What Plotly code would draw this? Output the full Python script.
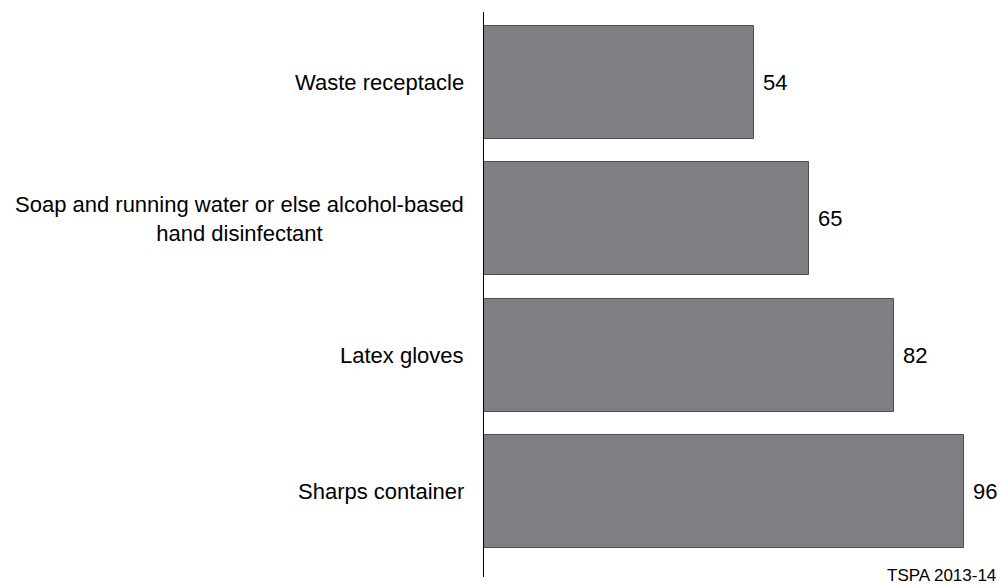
import plotly.graph_objects as go

# Data (bottom to top)
categories = ["Sharps container", "Latex gloves",
              "Soap and running water or else alcohol-based<br>hand disinfectant",
              "Waste receptacle"]
values = [96, 82, 65, 54]

FONT = "Liberation Sans, Arial"

fig = go.Figure()

fig.add_trace(go.Bar(
    x=values,
    y=list(range(len(categories))),
    orientation="h",
    width=0.83,
    marker=dict(color="#808084", line=dict(color="#4d4d4f", width=1)),
    hoverinfo="skip",
))

# Category labels centred on each bar
for i, cat in enumerate(categories):
    fig.add_annotation(
        x=0, xref="paper", y=i, yref="y",
        text=cat, showarrow=False,
        xanchor="right", yanchor="middle", align="center",
        xshift=-18,
        font=dict(family=FONT, size=22, color="#000000"),
    )

# Value labels just past the end of each bar
for i, v in enumerate(values):
    fig.add_annotation(
        x=v, xref="x", y=i, yref="y",
        text=str(v), showarrow=False,
        xanchor="left", yanchor="middle", xshift=7,
        font=dict(family=FONT, size=22, color="#000000"),
    )

# Source note
fig.add_annotation(
    x=1, xref="paper", y=0, yref="paper",
    text="TSPA 2013-14", showarrow=False,
    xanchor="right", yanchor="bottom", xshift=14, yshift=-10,
    font=dict(family=FONT, size=17, color="#000000"),
)

fig.update_layout(
    width=1000, height=585,
    margin=dict(l=484, r=16, t=12, b=8),
    plot_bgcolor="white", paper_bgcolor="white",
    showlegend=False,
    xaxis=dict(range=[0, 100], visible=False, fixedrange=True),
    yaxis=dict(range=[-0.63, 3.52], showticklabels=False, showgrid=False,
               zeroline=False, showline=True, linecolor="#000000", linewidth=1,
               ticks=""),
    bargap=0,
)

fig.write_html("out.html",
               config={"displayModeBar": False},
               post_script="document.body.style.margin='0';"
                           "document.body.style.overflow='hidden';")
